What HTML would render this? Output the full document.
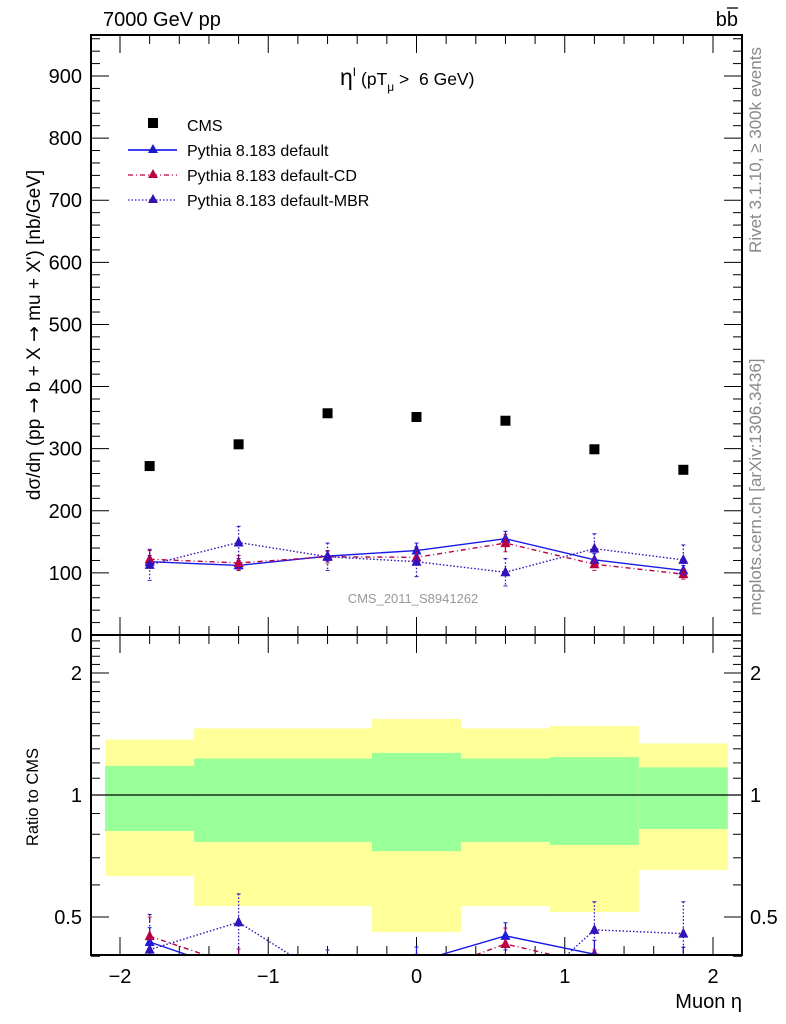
<!DOCTYPE html>
<html><head><meta charset="utf-8"><style>
html,body{margin:0;padding:0;background:#fff;}
svg{display:block;font-family:"Liberation Sans","DejaVu Sans",sans-serif;}
</style></head><body>
<svg id="c" width="786" height="1024" viewBox="0 0 786 1024" xmlns="http://www.w3.org/2000/svg">
<text x="103" y="26" font-size="20">7000 GeV pp</text>
<text x="738" y="26" font-size="20" text-anchor="end">bb</text>
<line x1="727" y1="8" x2="738" y2="8" stroke="#000" stroke-width="1.3"/>
<text x="340" y="85" font-size="23">η<tspan font-size="12" dy="-9">I</tspan><tspan font-size="17.5" dy="9"> (pT</tspan><tspan font-size="12" dy="6">μ</tspan><tspan font-size="17.5" dy="-6" xml:space="preserve"> &gt;  6 GeV)</tspan></text>
<text x="413" y="603" font-size="13" fill="#999" text-anchor="middle">CMS_2011_S8941262</text>
<text transform="translate(761,150) rotate(-90)" font-size="17" fill="#888" text-anchor="middle">Rivet 3.1.10, ≥ 300k events</text>
<text transform="translate(761,487) rotate(-90)" font-size="17" fill="#888" text-anchor="middle">mcplots.cern.ch [arXiv:1306.3436]</text>
<text transform="translate(40,335) rotate(-90)" font-size="19" text-anchor="middle">dσ/dη (pp <tspan font-family="DejaVu Sans">→</tspan> b + X <tspan font-family="DejaVu Sans">→</tspan> mu + X') [nb/GeV]</text>
<text transform="translate(38,797) rotate(-90)" font-size="16.5" text-anchor="middle">Ratio to CMS</text>
<text x="742" y="1008" font-size="20" text-anchor="end">Muon η</text>
<g>
<rect x="148" y="118" width="10" height="10" fill="#000"/>
<text x="187" y="131" font-size="16">CMS</text>
<line x1="128" y1="150" x2="177" y2="150" stroke="#0000ee" stroke-width="1.5"/>
<polygon points="153,144 148,153 158,153" fill="#1a1acc"/>
<text x="187" y="156" font-size="16">Pythia 8.183 default</text>
<line x1="128" y1="175" x2="177" y2="175" stroke="#bb0044" stroke-width="1.2" stroke-dasharray="5,3,1,3"/>
<polygon points="153,169 148,178 158,178" fill="#bb0044"/>
<text x="187" y="181" font-size="16">Pythia 8.183 default-CD</text>
<line x1="128" y1="200" x2="177" y2="200" stroke="#3311cc" stroke-width="1.2" stroke-dasharray="1.5,2"/>
<polygon points="153,194 148,203 158,203" fill="#3311aa"/>
<text x="187" y="206" font-size="16">Pythia 8.183 default-MBR</text>
</g>
<g id="g"></g>
</svg>
<script>
const etaCenters=[-1.8,-1.2,-0.6,0,0.6,1.2,1.8];
const binEdges=[-2.1,-1.5,-0.9,-0.3,0.3,0.9,1.5,2.1];
const cmsValues=[272,307,357,351,345,299,266];
const defaultValues=[118,112,127,136,155,121,104];
const defaultErrors=[10,8,8,12,12,10,8];
const cdValues=[122,116,126,125,148,114,98];
const cdErrors=[14,12,10,12,14,10,8];
const mbrValues=[113,149,126,118,101,139,121];
const mbrErrors=[25,26,22,24,22,24,24];
const yellowTop=[1.37,1.46,1.46,1.54,1.46,1.48,1.34];
const greenTop=[1.18,1.23,1.23,1.27,1.23,1.24,1.17];
const greenBottom=[0.815,0.766,0.766,0.727,0.766,0.753,0.824];
const yellowBottom=[0.631,0.532,0.532,0.459,0.532,0.514,0.653];
const yTicks=[0,100,200,300,400,500,600,700,800,900];
const xTicks=[-2,-1,0,1,2];
const ratioTicks=[0.5,1,2];

const NS="http://www.w3.org/2000/svg";
const G=document.getElementById('g');
const L=91,R=742,T=35,MB=635,RB=955;
const xs=v=>416.5+v*148.25;
const ys=v=>MB-v*0.6211;
const rs=v=>795-122*Math.log2(v);
function mk(t,a,p){const e=document.createElementNS(NS,t);for(const k in a)e.setAttribute(k,a[k]);(p||G).appendChild(e);return e;}

const rc=mk('clipPath',{id:'rclip'});mk('rect',{x:L,y:MB,width:R-L,height:RB-MB-1},rc);
const bands=mk('g',{'clip-path':'url(#rclip)'});


for(let i=0;i<etaCenters.length;i++){
 const x0=xs(binEdges[i]),x1=xs(binEdges[i+1]);
 const y=mk('rect',{x:x0,y:rs(yellowTop[i]),width:x1-x0,height:rs(yellowBottom[i])-rs(yellowTop[i]),fill:'#ffff99'},bands);
 
 
 const g=mk('rect',{x:x0,y:rs(greenTop[i]),width:x1-x0,height:rs(greenBottom[i])-rs(greenTop[i]),fill:'#99ff99'},bands);
 
 
}
mk('line',{x1:L,y1:rs(1),x2:R,y2:rs(1),stroke:'#000','stroke-width':1.2});

mk('rect',{x:L,y:T,width:R-L,height:MB-T,fill:'none',stroke:'#000','stroke-width':2});
mk('rect',{x:L,y:MB,width:R-L,height:RB-MB,fill:'none',stroke:'#000','stroke-width':2});

for(let k=-10;k<=10;k++){const v=k*0.2;const x=xs(v);if(x<L||x>R)continue;const maj=k%5===0;const len=maj?18:9;
 for(const yb of [MB,RB]){mk('line',{x1:x,y1:yb,x2:x,y2:yb-len,stroke:'#000'});}
 mk('line',{x1:x,y1:T,x2:x,y2:T+len,stroke:'#000'});
 mk('line',{x1:x,y1:MB,x2:x,y2:MB+len,stroke:'#000'});}
xTicks.forEach(v=>{const t=mk('text',{x:xs(v),y:983,'font-size':20,'text-anchor':'middle'});t.textContent=(v<0?'−':'')+Math.abs(v);
 
 });
for(let v=0;v<=960;v+=20){const y=ys(v);const len=v%100===0?18:9;
 mk('line',{x1:L,y1:y,x2:L+len,y2:y,stroke:'#000'});mk('line',{x1:R,y1:y,x2:R-len,y2:y,stroke:'#000'});}
yTicks.forEach(v=>{const t=mk('text',{x:82,y:ys(v)+7,'font-size':20,'text-anchor':'end'});t.textContent=v;
 
 });
for(let k=4;k<=24;k++){const v=k/10;const y=rs(v);const maj=(k===5||k===10||k===20);const len=maj?18:9;
 mk('line',{x1:L,y1:y,x2:L+len,y2:y,stroke:'#000'});mk('line',{x1:R,y1:y,x2:R-len,y2:y,stroke:'#000'});}
ratioTicks.forEach(v=>{for(const [x,a] of [[82,'end'],[750,'start']]){const t=mk('text',{x:x,y:rs(v)+7,'font-size':20,'text-anchor':a});t.textContent=v;
 
 }});

const mc=mk('clipPath',{id:'mclip'});mk('rect',{x:L,y:T,width:R-L,height:MB-T},mc);
function series(vals,errs,color,dash,name,ratio){
 const g=mk('g',{'clip-path':ratio?'url(#rclip)':'url(#mclip)'});
 
 
 const f=ratio?(i,v)=>rs(v/cmsValues[i]):(i,v)=>ys(v);
 const pts=vals.map((v,i)=>xs(etaCenters[i])+','+f(i,v)).join(' ');
 mk('polyline',{points:pts,fill:'none',stroke:color,'stroke-width':1.4,'stroke-dasharray':dash},g);
 vals.forEach((v,i)=>{const x=xs(etaCenters[i]),y=f(i,v);const y1=f(i,v+errs[i]),y2=f(i,v-errs[i]);
  mk('line',{x1:x,y1:y1,x2:x,y2:y2,stroke:color,'stroke-width':1.3,'stroke-dasharray':dash},g);
  mk('line',{x1:x-2,y1:y1,x2:x+2,y2:y1,stroke:color},g);mk('line',{x1:x-2,y1:y2,x2:x+2,y2:y2,stroke:color},g);
  const m=mk('polygon',{points:`${x},${y-6} ${x-5},${y+4} ${x+5},${y+4}`,fill:color},g);
  
  });
}
series(defaultValues,defaultErrors,'#1a1ae6','none','series-default',false);
series(cdValues,cdErrors,'#bb0044','5,3,1,3','series-default-cd',false);
series(mbrValues,mbrErrors,'#3311bb','1.5,2','series-default-mbr',false);
series(defaultValues,defaultErrors,'#1a1ae6','none','ratio-default',true);
series(cdValues,cdErrors,'#bb0044','5,3,1,3','ratio-default-cd',true);
series(mbrValues,mbrErrors,'#3311bb','1.5,2','ratio-default-mbr',true);
cmsValues.forEach((v,i)=>{const r=mk('rect',{x:xs(etaCenters[i])-5,y:ys(v)-5,width:10,height:10,fill:'#000'});
 
 });
</script>
</body></html>
